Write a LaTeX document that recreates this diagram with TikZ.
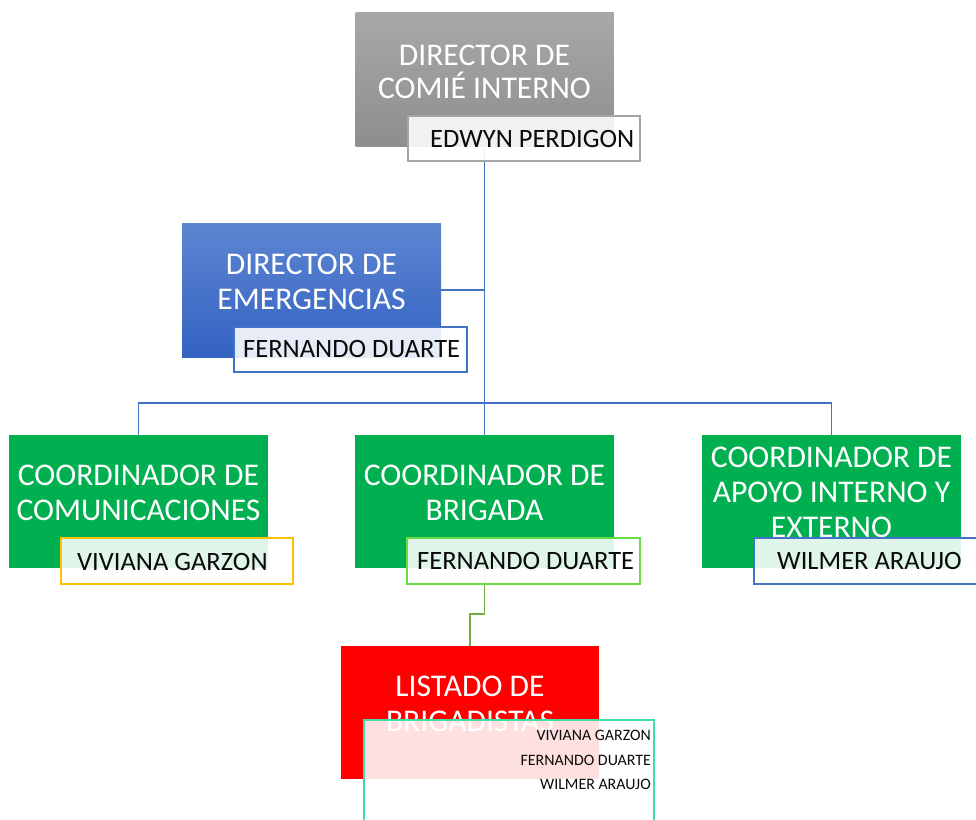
\documentclass[tikz,border=0pt]{standalone}
\usepackage{fontspec}
\setmainfont{Carlito}
\definecolor{cblue}{HTML}{4472C4}
\definecolor{cgreen}{HTML}{00B050}
\definecolor{lgreen}{HTML}{70AD47}
\definecolor{grayA}{HTML}{A8A8A8}
\definecolor{grayB}{HTML}{8E8E8E}
\definecolor{blueA}{HTML}{5D85D1}
\definecolor{blueB}{HTML}{3362C2}
\definecolor{gold}{HTML}{FFC000}
\definecolor{brgreen}{HTML}{66DD44}
\definecolor{teal}{HTML}{44DDA0}
\definecolor{grayline}{HTML}{A5A5A5}
\definecolor{txt}{HTML}{0A0A0A}
\begin{document}
\begin{tikzpicture}[x=1pt,y=-1pt,
  conn/.style={draw=cblue, line width=1.7pt},
  gconn/.style={draw=lgreen, line width=1.7pt},
  unit/.style={inner sep=0pt, draw=none},
  namebox/.style={draw=#1, line width=1.4pt, fill=white, fill opacity=0.88, inner sep=0pt},
  ttl/.style={text=white, font=\fontsize{31.6}{36}\selectfont, inner sep=0pt, anchor=base},
  nm/.style={text=txt, font=\fontsize{26.5}{30}\selectfont, inner sep=0pt, anchor=base west},
  lst/.style={text=txt, font=\fontsize{15.9}{18}\selectfont, inner sep=0pt, anchor=base east}]
\useasboundingbox (0,0) rectangle (976,819);
\clip (0,0) rectangle (976,819);

% coordinates for connector routing
\coordinate (bar) at (0,403);
\coordinate (elbow) at (0,614);

% main boxes
\node[unit, top color=grayA, bottom color=grayB, minimum width=258pt, minimum height=134pt] (dir) at (484.5,79) {};
\node[unit, top color=blueA, bottom color=blueB, minimum width=259pt, minimum height=134pt] (emer) at (311.5,290) {};
\node[unit, minimum width=259pt, minimum height=133pt] (cl) at (138.5,501.5) {};
\node[unit, minimum width=258pt, minimum height=133pt] (cm) at (484.5,501.5) {};
\node[unit, minimum width=259pt, minimum height=133pt] (cr) at (831.5,501.5) {};
\node[unit, minimum width=258pt, minimum height=133pt] (red) at (470,712.5) {};

% connectors
\draw[conn] (dir.south) -- (dir.south |- bar);
\draw[conn] (emer.east) -- (emer.east -| dir.south);
\draw[conn] (cl.north) -- (cl.north |- bar) -- (cr.north |- bar) -- (cr.north);
\draw[conn] (cm.north) -- (cm.north |- bar);
\draw[gconn] (cm.south) -- (cm.south |- elbow) -| (red.north);

% fill the coordinator and list boxes
\fill[cgreen] (cl.north west) rectangle (cl.south east);
\fill[cgreen] (cm.north west) rectangle (cm.south east);
\fill[cgreen] (cr.north west) rectangle (cr.south east);
\fill[red] (red.north west) rectangle (red.south east);

% titles
\node[ttl] (t1a) at (484.5,65) {DIRECTOR DE};
\node[ttl] (t1b) at (484.5,98) {COMIÉ INTERNO};
\node[ttl] (t2a) at (311.5,274) {DIRECTOR DE};
\node[ttl] (t2b) at (311.5,309) {EMERGENCIAS};
\node[ttl] (t3a) at (138.5,485) {COORDINADOR DE};
\node[ttl] (t3b) at (138.5,520) {COMUNICACIONES};
\node[ttl] (t4a) at (484.5,485) {COORDINADOR DE};
\node[ttl] (t4b) at (484.5,520) {BRIGADA};
\node[ttl] (t5a) at (831.5,467) {COORDINADOR DE};
\node[ttl] (t5b) at (831.5,502) {APOYO INTERNO Y};
\node[ttl] (t5c) at (831.5,537) {EXTERNO};
\node[ttl] (t6a) at (470,696) {LISTADO DE};
\node[ttl] (t6b) at (470,731) {BRIGADISTAS};

% name boxes
\node[namebox=grayline, minimum width=232pt, minimum height=45pt] (n1) at (524,138.5) {};
\node[namebox=cblue, minimum width=233pt, minimum height=45pt] (n2) at (350.5,349.5) {};
\node[namebox=gold, minimum width=232pt, minimum height=46pt] (n3) at (177,561) {};
\node[namebox=brgreen, minimum width=233pt, minimum height=46pt] (n4) at (523.5,561) {};
\node[namebox=cblue, minimum width=232pt, minimum height=46pt] (n5) at (870,561) {};
\node[namebox=teal, minimum width=290pt, minimum height=130pt] (n6) at (509,785) {};

% names
\node[nm] (m1) at (430,147) {EDWYN PERDIGON};
\node[nm] (m2) at (243,357.5) {FERNANDO DUARTE};
\node[nm] (m3) at (77,570) {VIVIANA GARZON};
\node[nm] (m4) at (417,569.5) {FERNANDO DUARTE};
\node[nm] (m5) at (777,569) {WILMER ARAUJO};
\node[lst] (l1) at (651,740) {VIVIANA GARZON};
\node[lst] (l2) at (651,765) {FERNANDO DUARTE};
\node[lst] (l3) at (651,789) {WILMER ARAUJO};
\end{tikzpicture}
\end{document}
